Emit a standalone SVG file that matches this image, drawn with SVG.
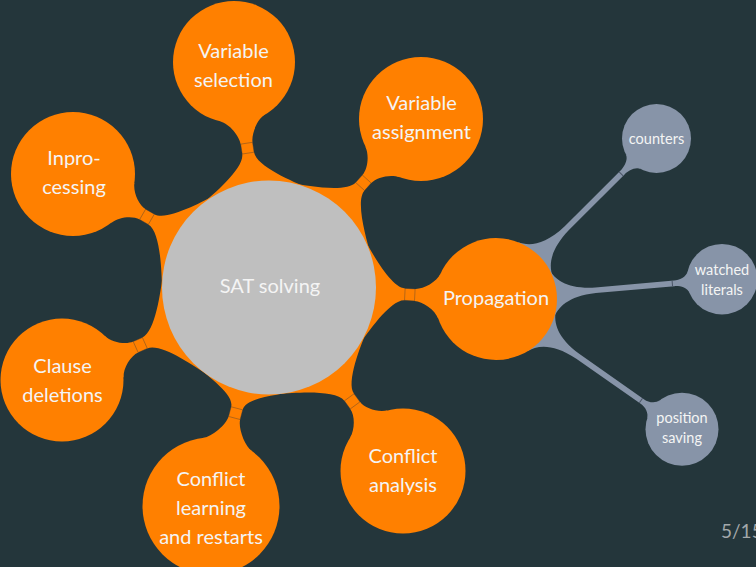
<svg xmlns="http://www.w3.org/2000/svg" width="756" height="567" viewBox="0 0 756 567">
<style>
  .bg{fill:#24363b}
  .hub{fill:#bfbfbf}
  .topic{fill:#ff8000}
  .leaf{fill:#8794a8}
  .bar-o{fill:#ff8000}
  .bar-g{fill:#8794a8}
  .seam{fill:none;stroke:#3a3a3a;stroke-width:0.6;stroke-opacity:0.6}
  .tick{stroke:#4a5566;stroke-width:1}
  text{font-family:Lato,"Open Sans","DejaVu Sans",sans-serif;fill:#f4f4f4;text-anchor:middle}
  .t{font-size:20px}
  .s{font-size:14.5px}
  .pg{font-size:19px;fill:#a3a8aa;text-anchor:start}
</style>

<rect class="bg" x="0" y="0" width="756" height="567"/>

<!-- connection bars: each drawn in a local frame, parent centre at origin, child along +x -->
<g id="connectors">
  <!-- second level: Propagation to its sub-concepts -->
  <g transform="translate(496 299)">
    <g transform="rotate(-45)">
      <path class="bar-g" d="M55.7 24.8 C60.6 13.8 72 3.6 100 2.8 L179 2.8 C184 2.8 192.35 4.95 194.2 10.66 L194.2 -10.66 C192.35 -4.95 184 -2.8 179 -2.8 L100 -2.8 C72 -3.6 60.6 -13.8 55.7 -24.8 Z"/>
      <line class="tick" x1="177" y1="-2.8" x2="177" y2="2.8"/>
    </g>
    <g transform="rotate(-5)">
      <path class="bar-g" d="M55.7 24.8 C60.6 13.8 72 3.6 100 2.8 L179 2.8 C184 2.8 191.6 5.2 193.43 10.9 L193.43 -10.9 C191.6 -5.2 184 -2.8 179 -2.8 L100 -2.8 C72 -3.6 60.6 -13.8 55.7 -24.8 Z"/>
      <line class="tick" x1="177" y1="-2.8" x2="177" y2="2.8"/>
    </g>
    <g transform="rotate(35)">
      <path class="bar-g" d="M55.7 24.8 C60.6 13.8 72 3.6 100 2.8 L179 2.8 C184 2.8 190.45 5.57 192.3 11.28 L192.3 -11.28 C190.45 -5.57 184 -2.8 179 -2.8 L100 -2.8 C72 -3.6 60.6 -13.8 55.7 -24.8 Z"/>
      <line class="tick" x1="177" y1="-2.8" x2="177" y2="2.8"/>
    </g>
  </g>

  <!-- first level: SAT solving to its topics -->
  <g transform="translate(269 287.5)">
    <g transform="rotate(-98.82)">
      <path class="bar-o" d="M91.7 55.1 C101 39.7 122 6 136 6 L146 6 C154 6 167.9 13.63 171.65 22.9 L171.65 -22.9 C167.9 -13.63 154 -6 146 -6 L136 -6 C122 -6 101 -39.7 91.7 -55.1 Z"/>
      <rect class="seam" x="136" y="-6" width="10" height="12"/>
    </g>
    <g transform="rotate(-47.95)">
      <path class="bar-o" d="M91.7 55.1 C101 39.7 122 6 136 6 L146 6 C154 6 165.65 13.98 169.4 23.25 L169.4 -23.25 C165.65 -13.98 154 -6 146 -6 L136 -6 C122 -6 101 -39.7 91.7 -55.1 Z"/>
      <rect class="seam" x="136" y="-6" width="10" height="12"/>
    </g>
    <g transform="rotate(-149.92)">
      <path class="bar-o" d="M91.7 55.1 C101 39.7 122 6 136 6 L146 6 C154 6 165.25 13.98 169 23.25 L169 -23.25 C165.25 -13.98 154 -6 146 -6 L136 -6 C122 -6 101 -39.7 91.7 -55.1 Z"/>
      <rect class="seam" x="136" y="-6" width="10" height="12"/>
    </g>
    <g transform="rotate(2.9)">
      <path class="bar-o" d="M91.7 55.1 C101 39.7 122 6 136 6 L146 6 C154 6 167 13.63 170.75 22.9 L170.75 -22.9 C167 -13.63 154 -6 146 -6 L136 -6 C122 -6 101 -39.7 91.7 -55.1 Z"/>
      <rect class="seam" x="136" y="-6" width="10" height="12"/>
    </g>
    <g transform="rotate(155.92)">
      <path class="bar-o" d="M91.7 55.1 C101 39.7 122 6 136 6 L146 6 C154 6 165.95 13.79 169.7 23.06 L169.7 -23.06 C165.95 -13.79 154 -6 146 -6 L136 -6 C122 -6 101 -39.7 91.7 -55.1 Z"/>
      <rect class="seam" x="136" y="-6" width="10" height="12"/>
    </g>
    <g transform="rotate(104.87)">
      <path class="bar-o" d="M91.7 55.1 C101 39.7 111 6 125 6 L135 6 C143 6 158.85 16.43 162.6 25.7 L162.6 -25.7 C158.85 -16.43 143 -6 135 -6 L125 -6 C111 -6 101 -39.7 91.7 -55.1 Z"/>
      <rect class="seam" x="125" y="-6" width="10" height="12"/>
    </g>
    <g transform="rotate(53.86)">
      <path class="bar-o" d="M91.7 55.1 C101 39.7 122 6 136 6 L146 6 C154 6 165.51 14.17 169.26 23.44 L169.26 -23.44 C165.51 -14.17 154 -6 146 -6 L136 -6 C122 -6 101 -39.7 91.7 -55.1 Z"/>
      <rect class="seam" x="136" y="-6" width="10" height="12"/>
    </g>
  </g>
</g>

<!-- concepts -->
<g id="sat-solving">
  <circle class="hub" cx="269" cy="287.5" r="107"/>
  <text class="t" x="270" y="292.5">SAT solving</text>
</g>

<g id="variable-selection">
  <circle class="topic" cx="234" cy="62" r="61"/>
  <text class="t" x="233.5" y="57.5">Variable</text>
  <text class="t" x="233.5" y="86.5">selection</text>
</g>

<g id="variable-assignment">
  <circle class="topic" cx="421" cy="119" r="62"/>
  <text class="t" x="421.5" y="110.3">Variable</text>
  <text class="t" x="421.5" y="139">assignment</text>
</g>

<g id="inprocessing">
  <circle class="topic" cx="73" cy="174" r="62"/>
  <text class="t" x="74" y="164.5">Inpro-</text>
  <text class="t" x="74" y="193.5">cessing</text>
</g>

<g id="propagation">
  <circle class="topic" cx="496" cy="299" r="61"/>
  <text class="t" x="496" y="304.7">Propagation</text>
</g>

<g id="clause-deletions">
  <circle class="topic" cx="62" cy="380" r="61.5"/>
  <text class="t" x="62.5" y="372.5">Clause</text>
  <text class="t" x="62.5" y="401.5">deletions</text>
</g>

<g id="conflict-learning">
  <circle class="topic" cx="211" cy="506" r="68.5"/>
  <text class="t" x="211" y="486.4">Conflict</text>
  <text class="t" x="211" y="515.4">learning</text>
  <text class="t" x="211" y="544.4">and restarts</text>
</g>

<g id="conflict-analysis">
  <circle class="topic" cx="403" cy="471" r="62.5"/>
  <text class="t" x="403" y="463">Conflict</text>
  <text class="t" x="403" y="492">analysis</text>
</g>

<g id="counters">
  <circle class="leaf" cx="656.5" cy="138.5" r="34.5"/>
  <text class="s" x="656.5" y="143.5">counters</text>
</g>

<g id="watched-literals">
  <circle class="leaf" cx="722" cy="279.2" r="35.3"/>
  <text class="s" x="722" y="275">watched</text>
  <text class="s" x="722" y="295">literals</text>
</g>

<g id="position-saving">
  <circle class="leaf" cx="682" cy="429.2" r="36.5"/>
  <text class="s" x="682" y="422.5">position</text>
  <text class="s" x="682" y="442.5">saving</text>
</g>

<text id="page-number" class="pg" x="721" y="537.5">5/15</text>
</svg>
